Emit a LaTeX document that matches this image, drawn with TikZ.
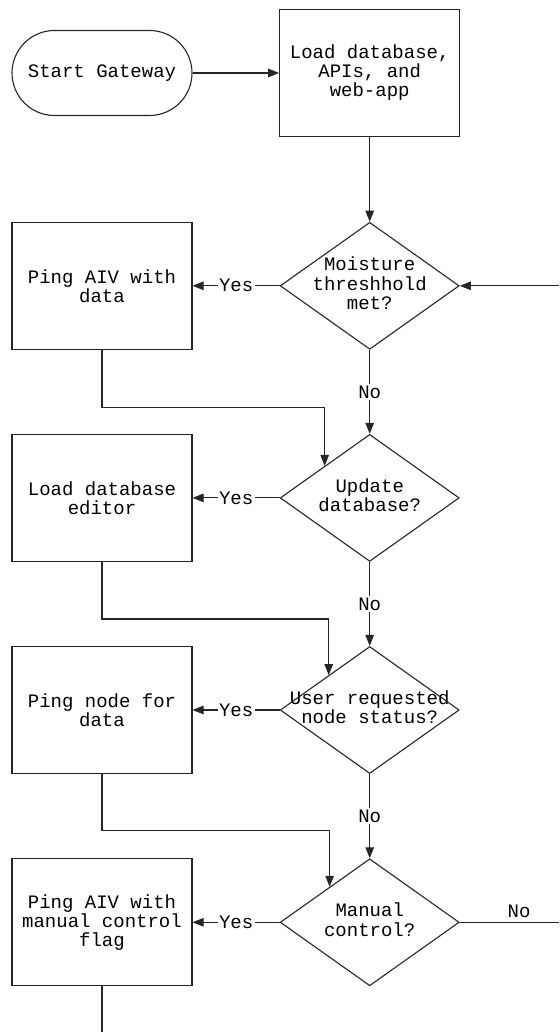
\documentclass[tikz,border=0pt]{standalone}
\usepackage{fontspec}
\setmainfont{Liberation Mono}
\usetikzlibrary{shapes.geometric,arrows.meta,calc}

\tikzset{
  base/.style={draw=black!85, line width=1.1pt, inner sep=2pt, align=center,
    font=\fontsize{19}{19}\selectfont},
  terminal/.style={base, rectangle, rounded corners=42.5pt,
    minimum width=180pt, minimum height=85pt},
  procbox/.style={base, rectangle, minimum width=180pt, minimum height=127pt},
  decision/.style={base, diamond, aspect=1.41, inner sep=0pt,
    minimum width=179pt, minimum height=127pt},
  flow/.style={draw=black!85, line width=1.1pt,
    -{Triangle[length=11pt,width=8.5pt]}},
  plain/.style={draw=black!85, line width=1.1pt},
  lbl/.style={fill=white, inner sep=1.5pt, font=\fontsize{19}{19}\selectfont},
}

% decision text is kept out of the diamond's size computation
\newcommand{\dtext}[1]{\makebox[0pt][c]{\begin{tabular}{@{}c@{}}#1\end{tabular}}}

\begin{document}
\begin{tikzpicture}[x=1pt, y=-1pt]
  \fill[white] (0,0) rectangle (559,1032);
  \useasboundingbox (0,0) rectangle (559,1032);

  % top row
  \node[terminal] (start) at (102,73) {Start Gateway};
  \node[procbox]  (load)  at (369.7,73) {Load database,\\APIs, and\\web-app};

  % decisions (right column) and actions (left column)
  \node[decision] (d1) at (369.7,285.8) {\dtext{Moisture\\threshhold\\met?}};
  \node[decision] (d2) at (369.7,497.9) {\dtext{Update\\database?}};
  \node[decision] (d3) at (369.7,710)   {\dtext{User requested\\node status?}};
  \node[decision] (d4) at (369.7,922.3) {\dtext{Manual\\control?}};

  \node[procbox] (b1) at (102,285.8) {Ping AIV with\\data};
  \node[procbox] (b2) at (102,497.9) {Load database\\editor};
  \node[procbox] (b3) at (102,710)   {Ping node for\\data};
  \node[procbox] (b4) at (102,922.3) {Ping AIV with\\manual control\\flag};

  % free ends at the page edges
  \coordinate (loopin) at (559,285.8);
  \coordinate (noout)  at (559,922.3);
  \coordinate (tail)   at (102,1032);

  % main flow
  \draw[flow] (start.east) -- (load.west);
  \draw[flow] (load.south) -- (d1.north);
  \draw[flow] (loopin) -- (d1.east);

  \draw[flow] (d1.south) -- node[lbl] {No} (d2.north);
  \draw[flow] (d2.south) -- node[lbl] {No} (d3.north);
  \draw[flow] (d3.south) -- node[lbl] {No} (d4.north);

  \draw[flow] (d1.west) -- node[lbl] {Yes} (b1.east);
  \draw[flow] (d2.west) -- node[lbl] {Yes} (b2.east);
  \draw[flow] (d3.west) -- node[lbl] {Yes} (b3.east);
  \draw[flow] (d4.west) -- node[lbl] {Yes} (b4.east);

  % returns from the actions into the next decision
  \draw[flow] (b1.south) -- ++(0,58) -| ($(d2.north)!0.5!(d2.west)$);
  \draw[flow] (b2.south) -- ++(0,57) -| ($(d3.north)!0.455!(d3.west)$);
  \draw[flow] (b3.south) -- ++(0,56.5) -| ($(d4.north)!0.445!(d4.west)$);

  % exits
  \draw[plain] (d4.east) -- (noout);
  \node[lbl, fill=none, anchor=south] (nolbl) at (519,919) {No};
  \draw[plain] (b4.south) -- (tail);
\end{tikzpicture}
\end{document}
